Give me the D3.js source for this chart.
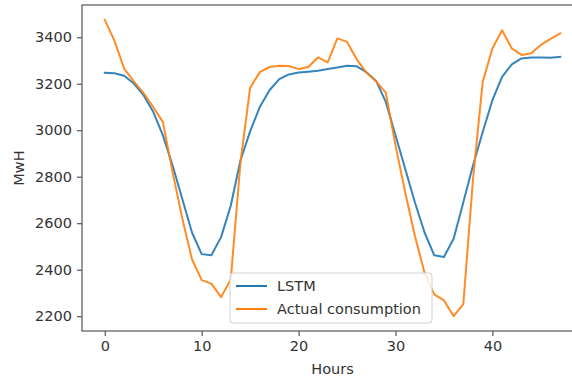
<!DOCTYPE html>
<html>
<head>
<meta charset="utf-8">
<script src="https://cdn.jsdelivr.net/npm/d3@7"></script>
<style>
  body { margin: 0; background: #fff; }
  text { font-family: 'DejaVu Sans', sans-serif; fill: #333; }
</style>
</head>
<body>
<svg id="svg" width="572" height="379"></svg>
<script>
// hours 0..47
var hours = d3.range(48)

var lstm = [3247, 3245, 3234, 3201, 3151, 3079, 2978, 2848, 2704, 2560,
    2467, 2462, 2540, 2675, 2870, 2995, 3100, 3172, 3220, 3240,
    3248, 3252, 3256, 3263, 3270, 3277, 3275, 3250, 3212, 3122,
    2978, 2834, 2690, 2560, 2462, 2455, 2533, 2690, 2848, 2992,
    3129, 3230, 3283, 3309, 3313, 3313, 3312, 3316]

var actual = [3475, 3385, 3265, 3210, 3160, 3100, 3035, 2820, 2620, 2445,
    2355, 2340, 2282, 2358, 2860, 3183, 3250, 3272, 3277, 3276,
    3263, 3272, 3313, 3292, 3395, 3380, 3305, 3248, 3210, 3162,
    2935, 2733, 2546, 2387, 2294, 2268, 2200, 2252, 2790, 3208,
    3352, 3430, 3352, 3324, 3331, 3367, 3393, 3417]

var xTicks = [0, 10, 20, 30, 40]
var yTicks = [2200, 2400, 2600, 2800, 3000, 3200, 3400]

var seriesNames = ['LSTM', 'Actual consumption']
var seriesColors = ['#1f77b4', '#ff7f0e']

var svg = d3.select('#svg')

// plot box, the right edge runs off the picture like in the original
var box = { left: 82, right: 583, top: 5, bottom: 331 }

// matplotlib style 5% margins
function pad(ext) {
    var d = (ext[1] - ext[0]) * 0.05
    return [ext[0] - d, ext[1] + d]
}

var x = d3.scaleLinear()
    .domain(pad(d3.extent(hours)))
    .range([box.left, box.right])

var all = lstm.concat(actual)
var y = d3.scaleLinear()
    .domain(pad(d3.extent(all)))
    .range([box.bottom, box.top])

var line = d3.line()
    .x(function(d, i) { return x(hours[i]) })
    .y(function(d) { return y(d) })

var series = [lstm, actual]

svg.selectAll('path.series')
    .data(series)
    .enter()
    .append('path')
    .attr('class', 'series')
    .attr('d', line)
    .attr('fill', 'none')
    .attr('stroke', function(d, i) { return seriesColors[i] })
    .attr('stroke-width', 2)
    .attr('stroke-opacity', 0.9)
    .attr('stroke-linejoin', 'round')
    .attr('stroke-linecap', 'square')

// axes
var xAxis = d3.axisBottom(x)
    .tickValues(xTicks)
    .tickFormat(d3.format('d'))
    .tickSize(5)
    .tickPadding(5)

var yAxis = d3.axisLeft(y)
    .tickValues(yTicks)
    .tickFormat(d3.format('d'))
    .tickSize(5)
    .tickPadding(5)

var gx = svg.append('g')
    .attr('transform', 'translate(0,' + box.bottom + ')')
    .call(xAxis)

var gy = svg.append('g')
    .attr('transform', 'translate(' + box.left + ',0)')
    .call(yAxis)

;[gx, gy].forEach(function(g) {
    g.select('.domain').remove()
    g.selectAll('line').attr('stroke', '#555').attr('stroke-width', 1.2)
    g.selectAll('text')
        .style('font-size', '14.5px')
        .style('font-family', "'DejaVu Sans', sans-serif")
        .attr('fill', '#333')
})

// spines
svg.append('rect')
    .attr('x', box.left)
    .attr('y', box.top)
    .attr('width', box.right - box.left)
    .attr('height', box.bottom - box.top)
    .attr('fill', 'none')
    .attr('stroke', '#555')
    .attr('stroke-width', 1.2)

svg.append('text')
    .attr('x', (box.left + box.right) / 2)
    .attr('y', 374)
    .attr('text-anchor', 'middle')
    .style('font-size', '14.5px')
    .text('Hours')

svg.append('text')
    .attr('transform', 'translate(24,' + (box.top + box.bottom) / 2 + ') rotate(-90)')
    .attr('text-anchor', 'middle')
    .style('font-size', '14.5px')
    .text('MwH')

// legend
var legend = svg.append('g')
    .attr('transform', 'translate(230,273)')

legend.append('rect')
    .attr('width', 202)
    .attr('height', 50)
    .attr('rx', 3)
    .attr('fill', '#fff')
    .attr('fill-opacity', 0.8)
    .attr('stroke', '#d0d0d0')

var items = legend.selectAll('g.item')
    .data(seriesNames)
    .enter()
    .append('g')
    .attr('class', 'item')
    .attr('transform', function(d, i) { return 'translate(0,' + (13 + i * 23) + ')' })

items.append('line')
    .attr('x1', 6)
    .attr('x2', 37)
    .attr('stroke', function(d, i) { return seriesColors[i] })
    .attr('stroke-width', 2)

items.append('text')
    .attr('x', 47)
    .attr('dy', '0.35em')
    .style('font-size', '14.5px')
    .text(function(d) { return d })
</script>
</body>
</html>
